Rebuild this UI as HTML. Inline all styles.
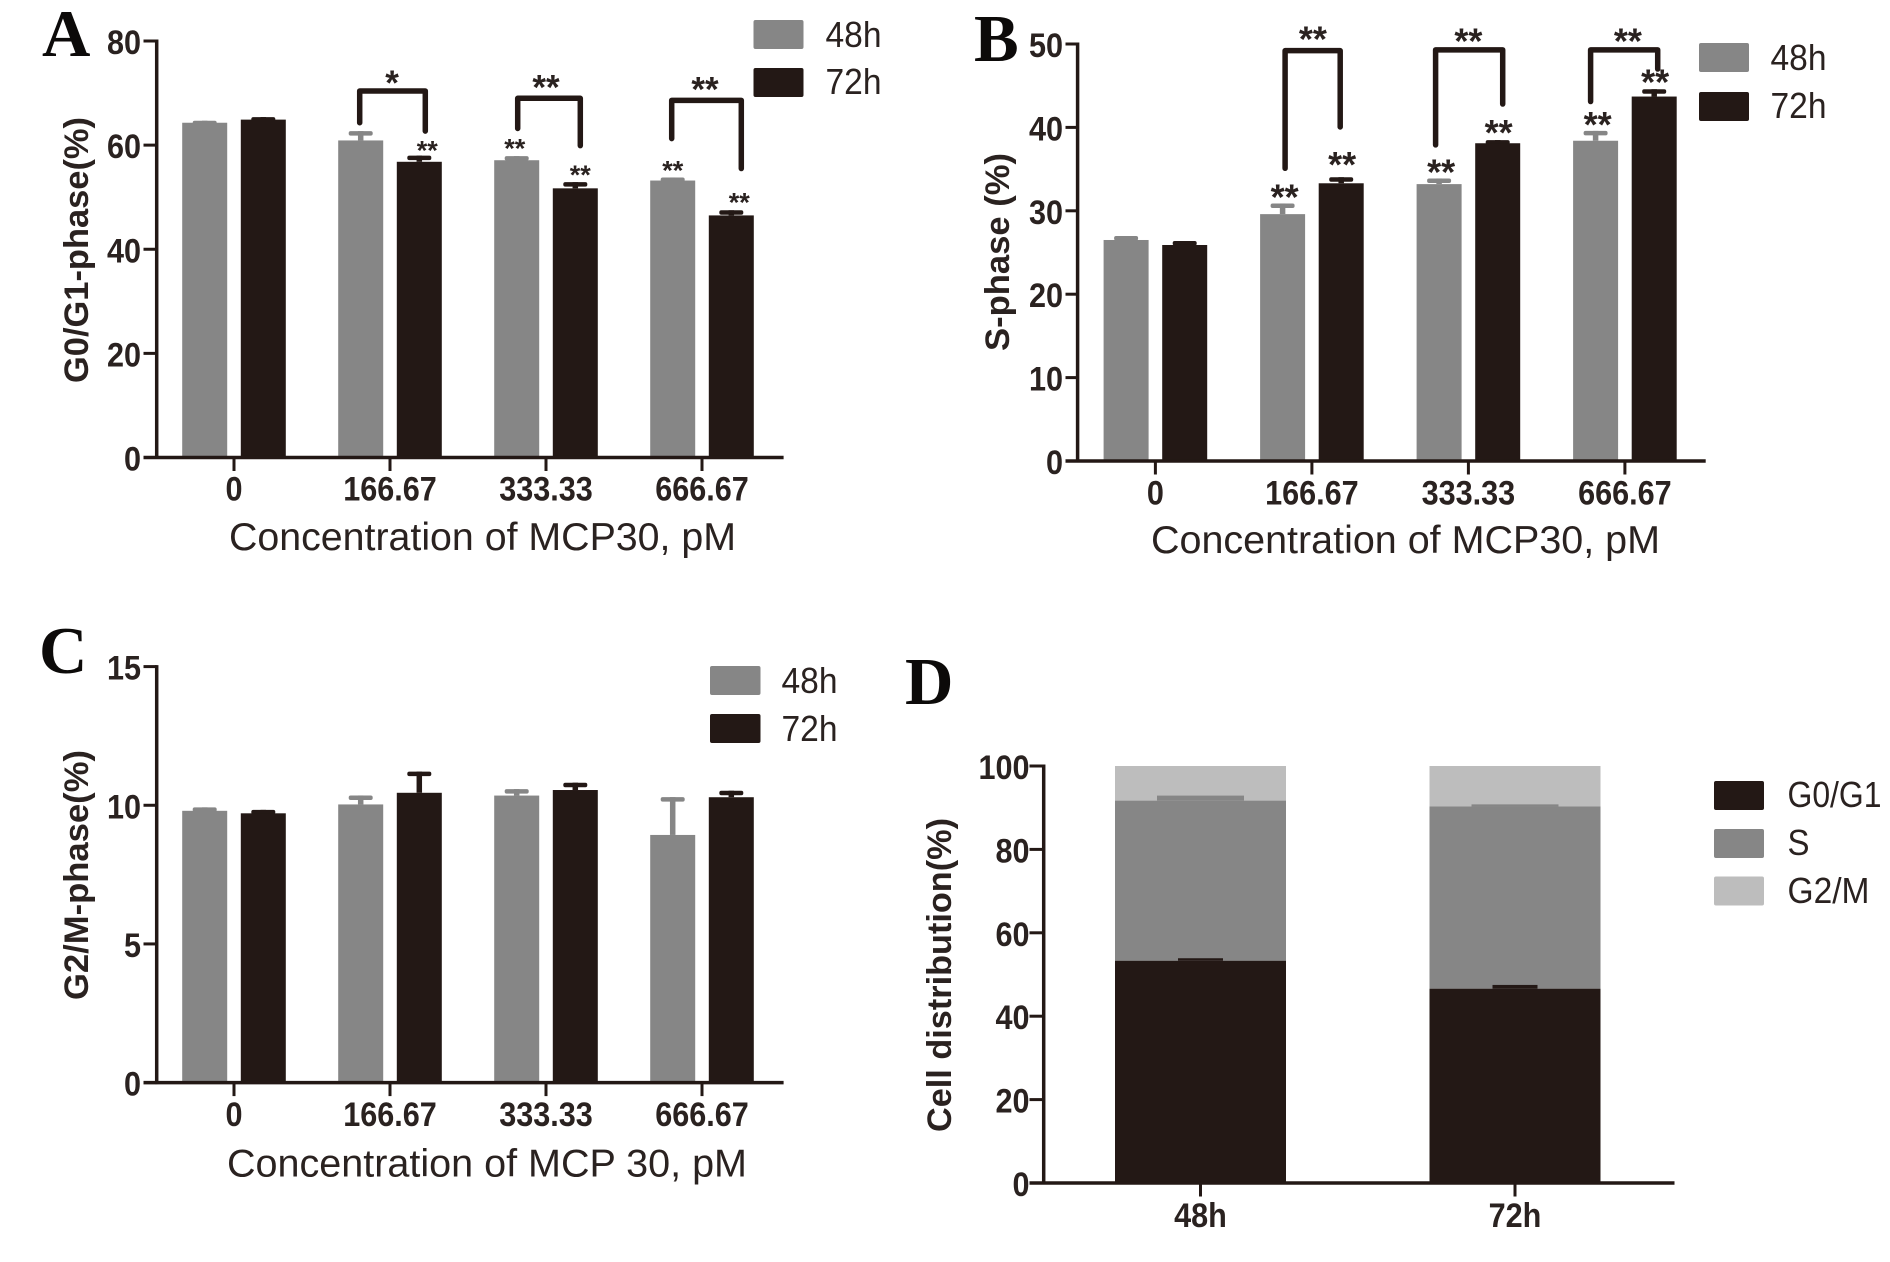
<!DOCTYPE html>
<html lang="en">
<head>
<meta charset="utf-8">
<title>MCP30 cell cycle charts</title>
<style>
  html, body { margin: 0; padding: 0; background: #fff; }
  svg { display: block; }
  text { font-family: "Liberation Sans", Arial, sans-serif; fill: #2a2220; }
  .letter { font-family: "Liberation Serif", "Times New Roman", serif; font-weight: bold; font-size: 67px; fill: #0c0a09; }
  .ytitle { font-weight: bold; font-size: 34px; }
  .xtitle { font-size: 39px; }
  .legend { font-size: 36px; }
</style>
</head>
<body>
<svg id="figure" width="1890" height="1262" viewBox="0 0 1890 1262" xmlns="http://www.w3.org/2000/svg">
  <rect x="0" y="0" width="1890" height="1262" fill="#ffffff"/>

  <g id="panel-A">
    <text class="letter" x="42" y="56">A</text>
    <text class="ytitle" transform="translate(88,250) rotate(-90)" text-anchor="middle" textLength="266" lengthAdjust="spacingAndGlyphs">G0/G1-phase(%)</text>
    <text class="xtitle" x="229" y="550" textLength="507" lengthAdjust="spacingAndGlyphs">Concentration of MCP30, pM</text>
    <g>
      <rect x="753.5" y="20" width="50" height="29" rx="2" fill="#868686"/>
      <text class="legend" x="825.5" y="47" textLength="56" lengthAdjust="spacingAndGlyphs">48h</text>
      <rect x="753.5" y="68" width="50" height="29" rx="2" fill="#231815"/>
      <text class="legend" x="825.5" y="94" textLength="56" lengthAdjust="spacingAndGlyphs">72h</text>
    </g>
  </g>

  <g id="panel-B">
    <text class="letter" x="974" y="61">B</text>
    <text class="ytitle" transform="translate(1009,252) rotate(-90)" text-anchor="middle" textLength="198" lengthAdjust="spacingAndGlyphs">S-phase (%)</text>
    <text class="xtitle" x="1151" y="553" textLength="509" lengthAdjust="spacingAndGlyphs">Concentration of MCP30, pM</text>
    <g>
      <rect x="1699" y="43" width="50" height="29" rx="2" fill="#868686"/>
      <text class="legend" x="1770.5" y="70" textLength="56" lengthAdjust="spacingAndGlyphs">48h</text>
      <rect x="1699" y="92" width="50" height="29" rx="2" fill="#231815"/>
      <text class="legend" x="1770.5" y="118" textLength="56" lengthAdjust="spacingAndGlyphs">72h</text>
    </g>
  </g>

  <g id="panel-C">
    <text class="letter" x="39" y="673">C</text>
    <text class="ytitle" transform="translate(88,875) rotate(-90)" text-anchor="middle" textLength="250" lengthAdjust="spacingAndGlyphs">G2/M-phase(%)</text>
    <text class="xtitle" x="227" y="1176.5" textLength="520" lengthAdjust="spacingAndGlyphs">Concentration of MCP 30, pM</text>
    <g>
      <rect x="710" y="666" width="50.5" height="29" rx="2" fill="#868686"/>
      <text class="legend" x="781.5" y="693" textLength="56" lengthAdjust="spacingAndGlyphs">48h</text>
      <rect x="710" y="714" width="50.5" height="29" rx="2" fill="#231815"/>
      <text class="legend" x="781.5" y="741" textLength="56" lengthAdjust="spacingAndGlyphs">72h</text>
    </g>
  </g>

  <g id="panel-D">
    <text class="letter" x="905" y="704">D</text>
    <text class="ytitle" transform="translate(951,975) rotate(-90)" text-anchor="middle" textLength="314" lengthAdjust="spacingAndGlyphs">Cell distribution(%)</text>
    <g>
      <rect x="1714" y="781" width="50" height="29" rx="2" fill="#231815"/>
      <text class="legend" x="1787.5" y="807" textLength="94" lengthAdjust="spacingAndGlyphs">G0/G1</text>
      <rect x="1714" y="829" width="50" height="29" rx="2" fill="#868686"/>
      <text class="legend" x="1787.5" y="855" textLength="22" lengthAdjust="spacingAndGlyphs">S</text>
      <rect x="1714" y="876.5" width="50" height="29" rx="2" fill="#bdbdbd"/>
      <text class="legend" x="1787.5" y="903" textLength="82" lengthAdjust="spacingAndGlyphs">G2/M</text>
    </g>
  </g>
</svg>

<script>
// ---------- chart data ----------
const categories = ['0', '166.67', '333.33', '666.67'];
const seriesNames = ['48h', '72h'];

const yTicksA = [0, 20, 40, 60, 80];
const values48hA = [64.3, 60.9, 57.1, 53.2];
const errors48hA = [0.1, 1.5, 0.5, 0.3];
const values72hA = [64.9, 56.8, 51.7, 46.5];
const errors72hA = [0.2, 0.9, 0.9, 0.7];

const yTicksB = [0, 10, 20, 30, 40, 50];
const values48hB = [26.5, 29.6, 33.2, 38.4];
const errors48hB = [0.3, 1.1, 0.5, 1.0];
const values72hB = [25.9, 33.3, 38.1, 43.7];
const errors72hB = [0.3, 0.55, 0.2, 0.7];

const yTicksC = [0, 5, 10, 15];
const values48hC = [9.8, 10.03, 10.35, 8.93];
const errors48hC = [0.07, 0.27, 0.18, 1.31];
const values72hC = [9.71, 10.45, 10.55, 10.29];
const errors72hC = [0.07, 0.71, 0.21, 0.18];

const categoriesD = ['48h', '72h'];
const yTicksD = [0, 20, 40, 60, 80, 100];
const valuesG0G1D = [53.3, 46.6];
const errorsG0G1D = [0.6, 0.9];
const valuesSD = [38.4, 43.7];
const errorsSD = [1.2, 0.5];
const valuesG2MD = [8.3, 9.7];

// significance annotations: bracket heights in axis units
const bracketCategoriesA = [1, 2, 3];
const bracketTopA = [70.4, 69.0, 68.6];
const bracketLeftEndA = [64.3, 63.2, 61.25];
const bracketRightEndA = [62.7, 59.9, 55.5];
const bracketLabelsA = ['*', '**', '**'];
const bracketLabelHeightA = [72.8, 71.9, 71.5];
const starSeriesA = [1, 0, 1, 0, 1];
const starCategoriesA = [1, 2, 2, 3, 3];
const starHeightsA = [59.7, 60.1, 55.0, 55.8, 49.7];

const bracketCategoriesB = [1, 2, 3];
const bracketTopB = [49.2, 49.3, 49.3];
const bracketLeftEndB = [35.1, 37.9, 43.1];
const bracketRightEndB = [40.05, 42.8, 47.0];
const bracketLabelsB = ['**', '**', '**'];
const bracketLabelHeightB = [51.1, 50.9, 50.9];
const starSeriesB = [0, 1, 0, 1, 0, 1];
const starCategoriesB = [1, 1, 2, 2, 3, 3];
const starHeightsB = [32.2, 36.1, 35.2, 39.9, 40.9, 46.0];

// ---------- styling and layout ----------
const INK = '#231815';
const GREY = '#868686';
const LIGHT = '#bdbdbd';
const BAR_W = 45;
const BAR_OFFSET = 29.3;
const CAP_W = 24;
const CAP_H = 4.5;
const CAP_RAISE = 1.5;
const STAR_DROP = 0.47;
const TEXT_SQUEEZE = 0.9;
const SVG_NS = 'http://www.w3.org/2000/svg';

const panelA = {
  id: 'a', group: 'panel-A', axisX: 156.7, axisStart: 143.5, axisEnd: 783.6,
  yTop: 41, y0: 457.5, yMax: 80, x0: 234, step: 156, tickLabelRight: 141, xLabelY: 500.5,
  yTicks: yTicksA, values: [values48hA, values72hA], errors: [errors48hA, errors72hA],
  brCats: bracketCategoriesA, brTop: bracketTopA, brLeft: bracketLeftEndA, brRight: bracketRightEndA,
  brLabels: bracketLabelsA, brLabelY: bracketLabelHeightA,
  stSeries: starSeriesA, stCats: starCategoriesA, stHeights: starHeightsA,
  brNudgeL: [-1, 1, -1], brNudgeR: [6, 5, 10], brLabelNudge: [2, 0, 3], stNudge: [8, -2, 5, 0, 8],
  brFont: 35, stFont: 27
};
const panelB = {
  id: 'b', group: 'panel-B', axisX: 1077.6, axisStart: 1065.5, axisEnd: 1705.7,
  yTop: 44, y0: 461, yMax: 50, x0: 1155.4, step: 156.5, tickLabelRight: 1063, xLabelY: 504.5,
  yTicks: yTicksB, values: [values48hB, values72hB], errors: [errors48hB, errors72hB],
  brCats: bracketCategoriesB, brTop: bracketTopB, brLeft: bracketLeftEndB, brRight: bracketRightEndB,
  brLabels: bracketLabelsB, brLabelY: bracketLabelHeightB,
  stSeries: starSeriesB, stCats: starCategoriesB, stHeights: starHeightsB,
  brNudgeL: [2.5, -3.5, -5], brNudgeR: [-1, 5, 3.5], brLabelNudge: [1, 0, 3], stNudge: [2, 1, 2, 1, 2, 1],
  brFont: 36, stFont: 36
};
const panelC = {
  id: 'c', group: 'panel-C', axisX: 156.7, axisStart: 143.5, axisEnd: 783.6,
  yTop: 666.6, y0: 1082.6, yMax: 15, x0: 234, step: 156, tickLabelRight: 141, xLabelY: 1126,
  yTicks: yTicksC, values: [values48hC, values72hC], errors: [errors48hC, errors72hC],
  brCats: [], brTop: [], brLeft: [], brRight: [], brLabels: [], brLabelY: [],
  stSeries: [], stCats: [], stHeights: [], brNudgeL: [], brNudgeR: [], brLabelNudge: [], stNudge: [],
  brFont: 35, stFont: 27
};

// ---------- axis functions ----------
function yScale(p, v) { return p.y0 - v * (p.y0 - p.yTop) / p.yMax; }
function xScale(p, i) { return p.x0 + i * p.step; }
function barCenter(p, cat, series) { return xScale(p, cat) + (series === 0 ? -BAR_OFFSET : BAR_OFFSET); }

function make(tag, parent, props, text) {
  const node = document.createElementNS(SVG_NS, tag);
  for (const key in props) { node.setAttribute(key, props[key]); }
  if (text !== undefined) { node.textContent = text; }
  parent.appendChild(node);
  return node;
}

function squeeze(label) {
  label.setAttribute('textLength', label.getComputedTextLength() * TEXT_SQUEEZE);
  label.setAttribute('lengthAdjust', 'spacingAndGlyphs');
}

function drawAxes(p, g, labels) {
  const yAxis = make('line', g, { x1: p.axisX, x2: p.axisX, y1: p.yTop - 1.5, y2: p.y0 + 1.5, stroke: INK, 'stroke-width': 3.5 });
  
  
  const xAxis = make('line', g, { x1: p.axisStart, x2: p.axisEnd, y1: p.y0, y2: p.y0, stroke: INK, 'stroke-width': 3.5 });
  
  
  p.yTicks.forEach(function (t) {
    const y = yScale(p, t);
    const tick = make('line', g, { x1: p.axisStart, x2: p.axisX, y1: y, y2: y, stroke: INK, 'stroke-width': 3 });
    
    
    const label = make('text', g, { x: p.tickLabelRight, y: y + 13, 'text-anchor': 'end', 'font-size': 34, 'font-weight': 'bold' }, String(t));
    
    
    squeeze(label);
  });
  labels.forEach(function (c, i) {
    const x = xScale(p, i);
    const tick = make('line', g, { x1: x, x2: x, y1: p.y0, y2: p.y0 + 13.5, stroke: INK, 'stroke-width': 3 });
    
    
    const label = make('text', g, { x: x, y: p.xLabelY, 'text-anchor': 'middle', 'font-size': 34, 'font-weight': 'bold' }, c);
    
    
    squeeze(label);
  });
}

function drawGrouped(p) {
  const g = document.getElementById(p.group);
  p.values.forEach(function (vals, s) {
    const color = s === 0 ? GREY : INK;
    vals.forEach(function (v, i) {
      const cx = barCenter(p, i, s);
      const top = yScale(p, v);
      const capY = yScale(p, v + p.errors[s][i]) - CAP_RAISE;
      const stem = make('line', g, { x1: cx, x2: cx, y1: top, y2: capY, stroke: color, 'stroke-width': 5.5 });
      
      
      const cap = make('rect', g, { x: cx - CAP_W / 2, y: capY, width: CAP_W, height: CAP_H, rx: 2, fill: color });
      
      
      const bar = make('rect', g, { x: cx - BAR_W / 2, y: top, width: BAR_W, height: p.y0 - top, fill: color });
      
      
    });
  });

  p.brCats.forEach(function (c, k) {
    const xl = barCenter(p, c, 0) + p.brNudgeL[k];
    const xr = barCenter(p, c, 1) + p.brNudgeR[k];
    const d = 'M' + xl + ' ' + yScale(p, p.brLeft[k]) + ' V' + yScale(p, p.brTop[k]) + ' H' + xr + ' V' + yScale(p, p.brRight[k]);
    const bracket = make('path', g, { d: d, fill: 'none', stroke: INK, 'stroke-width': 5.5, 'stroke-linejoin': 'round', 'stroke-linecap': 'round' });
    
    
    const label = make('text', g, { x: xScale(p, c) + p.brLabelNudge[k], y: yScale(p, p.brLabelY[k]) + p.brFont * STAR_DROP, 'text-anchor': 'middle', 'font-size': p.brFont, 'font-weight': 'bold' }, p.brLabels[k]);
    
    
  });

  p.stCats.forEach(function (c, k) {
    const s = p.stSeries[k];
    const label = make('text', g, { x: barCenter(p, c, s) + p.stNudge[k], y: yScale(p, p.stHeights[k]) + p.stFont * STAR_DROP, 'text-anchor': 'middle', 'font-size': p.stFont, 'font-weight': 'bold' }, '**');
    
    
  });

  drawAxes(p, g, categories);
}

const panelD = {
  id: 'd', axisX: 1043.7, axisStart: 1029.5, axisEnd: 1674.5,
  yTop: 766, y0: 1183, yMax: 100, x0: 1200.5, step: 314.5, tickLabelRight: 1029.5, xLabelY: 1227,
  yTicks: yTicksD, barW: 171, capG0: 45, capS: 87
};

function drawStacked(p) {
  const g = document.getElementById('panel-D');
  categoriesD.forEach(function (c, i) {
    const cx = xScale(p, i);
    const left = cx - p.barW / 2;
    const g0 = valuesG0G1D[i];
    const s = valuesSD[i];
    const g2 = valuesG2MD[i];
    const segTop = make('rect', g, { x: left, y: yScale(p, g0 + s + g2), width: p.barW, height: yScale(p, g0 + s) - yScale(p, g0 + s + g2), fill: LIGHT });
    
    
    const segMid = make('rect', g, { x: left, y: yScale(p, g0 + s), width: p.barW, height: yScale(p, g0) - yScale(p, g0 + s), fill: GREY });
    
    
    const errS = make('rect', g, { x: cx - p.capS / 2, y: yScale(p, g0 + s + errorsSD[i]), width: p.capS, height: yScale(p, g0 + s) - yScale(p, g0 + s + errorsSD[i]), fill: GREY });
    
    
    const segLow = make('rect', g, { x: left, y: yScale(p, g0), width: p.barW, height: p.y0 - yScale(p, g0), fill: INK });
    
    
    const errG = make('rect', g, { x: cx - p.capG0 / 2, y: yScale(p, g0 + errorsG0G1D[i]), width: p.capG0, height: yScale(p, g0) - yScale(p, g0 + errorsG0G1D[i]), fill: INK });
    
    
  });
  drawAxes(p, g, categoriesD);
}

drawGrouped(panelA);
drawGrouped(panelB);
drawGrouped(panelC);
drawStacked(panelD);
</script>
</body>
</html>
